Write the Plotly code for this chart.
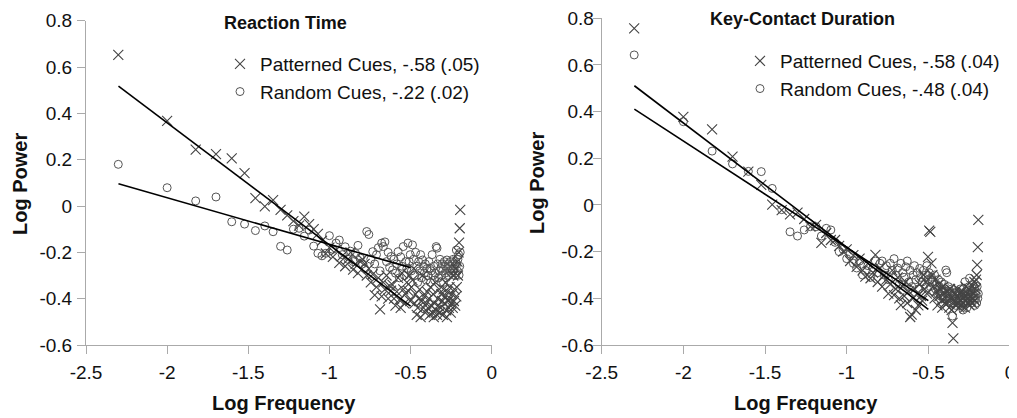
"""Log power spectra for reaction time and key-contact duration."""
import plotly.graph_objects as go

# log frequency shared by every series (k = 1..128)
log_freq = [
    -2.301, -2.000, -1.824, -1.699, -1.602, -1.523, -1.456, -1.398, -1.347, -1.301, -1.260, -1.222, -1.187, -1.155, -1.125, -1.097,
    -1.071, -1.046, -1.022, -1.000, -0.979, -0.959, -0.939, -0.921, -0.903, -0.886, -0.870, -0.854, -0.839, -0.824, -0.810, -0.796,
    -0.783, -0.770, -0.757, -0.745, -0.733, -0.721, -0.710, -0.699, -0.688, -0.678, -0.668, -0.658, -0.648, -0.638, -0.629, -0.620,
    -0.611, -0.602, -0.593, -0.585, -0.577, -0.569, -0.561, -0.553, -0.545, -0.538, -0.530, -0.523, -0.516, -0.509, -0.502, -0.495,
    -0.488, -0.481, -0.475, -0.469, -0.462, -0.456, -0.450, -0.444, -0.438, -0.432, -0.426, -0.420, -0.415, -0.409, -0.403, -0.398,
    -0.393, -0.387, -0.382, -0.377, -0.372, -0.367, -0.361, -0.357, -0.352, -0.347, -0.342, -0.337, -0.333, -0.328, -0.323, -0.319,
    -0.314, -0.310, -0.305, -0.301, -0.297, -0.292, -0.288, -0.284, -0.280, -0.276, -0.272, -0.268, -0.264, -0.260, -0.256, -0.252,
    -0.248, -0.244, -0.240, -0.237, -0.233, -0.229, -0.225, -0.222, -0.218, -0.215, -0.211, -0.208, -0.204, -0.201, -0.197, -0.194,
]

rt_patterned = [
    0.652, 0.368, 0.243, 0.224, 0.206, 0.142, 0.034, -0.002, 0.025, -0.017, -0.040, -0.065, -0.085, -0.046, -0.078, -0.100,
    -0.120, -0.150, -0.205, -0.180, -0.220, -0.190, -0.245, -0.215, -0.260, -0.230, -0.200, -0.275, -0.250, -0.290, -0.240, -0.230,
    -0.250, -0.300, -0.270, -0.330, -0.295, -0.385, -0.350, -0.310, -0.446, -0.390, -0.330, -0.360, -0.300, -0.400, -0.345, -0.365,
    -0.340, -0.400, -0.430, -0.370, -0.310, -0.405, -0.440, -0.290, -0.360, -0.420, -0.380, -0.330, -0.365, -0.300, -0.410, -0.350,
    -0.320, -0.270, -0.420, -0.380, -0.470, -0.440, -0.400, -0.360, -0.480, -0.410, -0.300, -0.440, -0.390, -0.460, -0.420, -0.370,
    -0.440, -0.400, -0.470, -0.350, -0.430, -0.460, -0.380, -0.480, -0.420, -0.330, -0.450, -0.470, -0.400, -0.430, -0.360, -0.460,
    -0.440, -0.380, -0.410, -0.470, -0.360, -0.420, -0.390, -0.330, -0.450, -0.480, -0.370, -0.410, -0.440, -0.350, -0.400, -0.460,
    -0.420, -0.380, -0.440, -0.300, -0.410, -0.360, -0.430, -0.270, -0.390, -0.350, -0.240, -0.300, -0.200, -0.158, -0.096, -0.017,
]

rt_random = [
    0.180, 0.079, 0.022, 0.039, -0.068, -0.078, -0.106, -0.086, -0.111, -0.174, -0.190, -0.100, -0.096, -0.130, -0.104, -0.173,
    -0.204, -0.215, -0.204, -0.128, -0.187, -0.160, -0.147, -0.210, -0.176, -0.230, -0.195, -0.240, -0.205, -0.170, -0.225, -0.250,
    -0.270, -0.110, -0.123, -0.230, -0.197, -0.250, -0.210, -0.180, -0.280, -0.160, -0.175, -0.155, -0.240, -0.200, -0.265, -0.218,
    -0.276, -0.230, -0.290, -0.250, -0.197, -0.310, -0.220, -0.260, -0.175, -0.300, -0.240, -0.270, -0.160, -0.240, -0.210, -0.280,
    -0.168, -0.230, -0.300, -0.200, -0.260, -0.330, -0.240, -0.280, -0.210, -0.310, -0.233, -0.260, -0.290, -0.250, -0.320, -0.270,
    -0.300, -0.240, -0.269, -0.330, -0.280, -0.210, -0.300, -0.260, -0.320, -0.290, -0.175, -0.182, -0.250, -0.310, -0.280, -0.230,
    -0.270, -0.300, -0.250, -0.280, -0.330, -0.240, -0.290, -0.260, -0.310, -0.233, -0.270, -0.250, -0.300, -0.280, -0.240, -0.260,
    -0.290, -0.250, -0.280, -0.230, -0.270, -0.260, -0.300, -0.240, -0.190, -0.250, -0.280, -0.230, -0.210, -0.298, -0.260, -0.200,
]

kcd_patterned = [
    0.757, 0.378, 0.324, 0.207, 0.143, 0.086, 0.002, -0.022, -0.040, -0.033, -0.060, -0.093, -0.085, -0.162, -0.120, -0.150,
    -0.150, -0.175, -0.200, -0.190, -0.240, -0.215, -0.265, -0.230, -0.280, -0.307, -0.250, -0.314, -0.290, -0.214, -0.330, -0.270,
    -0.350, -0.300, -0.320, -0.380, -0.340, -0.280, -0.386, -0.360, -0.310, -0.400, -0.429, -0.350, -0.390, -0.330, -0.420, -0.370,
    -0.480, -0.470, -0.400, -0.360, -0.450, -0.380, -0.430, -0.340, -0.390, -0.410, -0.300, -0.360, -0.330, -0.380, -0.222, -0.110,
    -0.115, -0.250, -0.300, -0.350, -0.400, -0.320, -0.370, -0.430, -0.340, -0.390, -0.360, -0.410, -0.440, -0.350, -0.380, -0.420,
    -0.400, -0.370, -0.420, -0.380, -0.440, -0.360, -0.400, -0.450, -0.505, -0.572, -0.410, -0.380, -0.430, -0.390, -0.420, -0.360,
    -0.400, -0.440, -0.380, -0.410, -0.430, -0.370, -0.420, -0.400, -0.390, -0.440, -0.350, -0.410, -0.380, -0.420, -0.400, -0.360,
    -0.430, -0.390, -0.410, -0.370, -0.420, -0.350, -0.400, -0.380, -0.330, -0.410, -0.360, -0.320, -0.300, -0.257, -0.181, -0.064,
]

kcd_random = [
    0.643, 0.357, 0.231, 0.176, 0.144, 0.143, 0.071, -0.020, -0.115, -0.133, -0.107, -0.093, -0.093, -0.133, -0.100, -0.107,
    -0.160, -0.200, -0.190, -0.230, -0.210, -0.250, -0.270, -0.240, -0.300, -0.280, -0.260, -0.310, -0.270, -0.240, -0.290, -0.250,
    -0.240, -0.300, -0.260, -0.320, -0.250, -0.280, -0.230, -0.300, -0.270, -0.340, -0.250, -0.290, -0.310, -0.265, -0.240, -0.330,
    -0.280, -0.350, -0.300, -0.260, -0.320, -0.290, -0.360, -0.272, -0.310, -0.330, -0.280, -0.340, -0.300, -0.260, -0.320, -0.290,
    -0.350, -0.310, -0.330, -0.370, -0.300, -0.360, -0.340, -0.380, -0.320, -0.350, -0.390, -0.330, -0.360, -0.400, -0.340, -0.370,
    -0.279, -0.290, -0.380, -0.350, -0.400, -0.370, -0.420, -0.360, -0.476, -0.390, -0.410, -0.380, -0.430, -0.400, -0.370, -0.420,
    -0.390, -0.410, -0.360, -0.430, -0.400, -0.380, -0.450, -0.420, -0.390, -0.329, -0.410, -0.370, -0.440, -0.400, -0.380, -0.350,
    -0.314, -0.400, -0.364, -0.420, -0.380, -0.340, -0.410, -0.390, -0.360, -0.430, -0.400, -0.370, -0.420, -0.350, -0.400, -0.380,
]

# fitted regression lines (end points)
fit_x = [-2.30, -0.50]
rt_patterned_fit = [0.518, -0.432]
rt_random_fit = [0.096, -0.266]
kcd_patterned_fit = [0.511, -0.447]
kcd_random_fit = [0.411, -0.410]

panel_titles = ['Reaction Time', 'Key-Contact Duration']
legend_labels = [
    ['Patterned Cues, -.58 (.05)', 'Random Cues, -.22 (.02)'],
    ['Patterned Cues, -.58 (.04)', 'Random Cues, -.48 (.04)'],
]

FONT = 'Liberation Sans, Arial, sans-serif'
INK = '#111111'
W, H = 1017, 418
OFF = 8  # page body margin


def px_x(px):
    return (px - OFF) / W


def px_y(py):
    return 1 - (py - OFF) / H


fig = go.Figure()

panels = [
    ('x', 'y', 'legend', rt_patterned, rt_random, rt_patterned_fit, rt_random_fit),
    ('x2', 'y2', 'legend2', kcd_patterned, kcd_random, kcd_patterned_fit, kcd_random_fit),
]

for i, (xa, ya, leg, patterned, random_cues, p_fit, r_fit) in enumerate(panels):
    fig.add_trace(go.Scatter(x=log_freq, y=random_cues, mode='markers', xaxis=xa, yaxis=ya,
                             name=legend_labels[i][1], legend=leg,
                             marker=dict(symbol='circle-open', size=8, color='#555555', line=dict(width=1))))
    fig.add_trace(go.Scatter(x=log_freq, y=patterned, mode='markers', xaxis=xa, yaxis=ya,
                             name=legend_labels[i][0], legend=leg,
                             marker=dict(symbol='x-thin-open', size=10, color='#444444', line=dict(width=1.1))))
    fig.add_trace(go.Scatter(x=fit_x, y=p_fit, mode='lines', xaxis=xa, yaxis=ya, showlegend=False,
                             line=dict(color='black', width=1.6)))
    fig.add_trace(go.Scatter(x=fit_x, y=r_fit, mode='lines', xaxis=xa, yaxis=ya, showlegend=False,
                             line=dict(color='black', width=1.6)))

axis_common = dict(
    showgrid=False, zeroline=False, showline=True, linecolor='#aaaaaa', linewidth=1,
    ticks='outside', ticklen=8, tickcolor='#aaaaaa', automargin=False, ticklabeloverflow='allow',
    tickfont=dict(family=FONT, size=19, color=INK),
)
xaxis_common = dict(axis_common, range=[-2.5, 0], tickvals=[-2.5, -2, -1.5, -1, -0.5, 0],
                    ticktext=['-2.5', '-2', '-1.5', '-1', '-0.5', '0'], ticklabelstandoff=2)
yaxis_common = dict(axis_common, range=[-0.6, 0.8], tickvals=[-0.6, -0.4, -0.2, 0, 0.2, 0.4, 0.6, 0.8],
                    ticktext=['-0.6', '-0.4', '-0.2', '0', '0.2', '0.4', '0.6', '0.8'])

fig.update_layout(
    width=W, height=H,
    template='none',
    paper_bgcolor='white', plot_bgcolor='white',
    margin=dict(l=0, r=0, t=0, b=0),
    font=dict(family=FONT, size=19, color=INK),
    xaxis=dict(xaxis_common, domain=[px_x(86), px_x(491.7)], anchor='y'),
    yaxis=dict(yaxis_common, domain=[px_y(345), px_y(20.7)], anchor='x', ticklabelstandoff=1),
    xaxis2=dict(xaxis_common, domain=[px_x(601.7), px_x(1010)], anchor='y2'),
    yaxis2=dict(yaxis_common, domain=[px_y(345), px_y(18.3)], anchor='x2', ticklabelstandoff=-5),
    legend=dict(x=px_x(220), y=px_y(45), xanchor='left', yanchor='top', traceorder='reversed',
                bgcolor='rgba(0,0,0,0)', font=dict(family=FONT, size=19, color=INK), itemwidth=30),
    legend2=dict(x=px_x(740), y=px_y(42), xanchor='left', yanchor='top', traceorder='reversed',
                 bgcolor='rgba(0,0,0,0)', font=dict(family=FONT, size=19, color=INK), itemwidth=30),
    showlegend=True,
)

# panel titles
for text, cx, cy in [(panel_titles[0], 285, 23), (panel_titles[1], 802, 19)]:
    fig.add_annotation(text='<b>' + text + '</b>', x=px_x(cx), y=px_y(cy),
                       xref='paper', yref='paper', xanchor='center', yanchor='middle', showarrow=False,
                       font=dict(family=FONT, size=18, color=INK))

# axis titles
for cx, cy in [(20, 184), (537, 183)]:
    fig.add_annotation(text='<b>Log Power</b>', x=px_x(cx), y=px_y(cy), textangle=-90,
                       xref='paper', yref='paper', xanchor='center', yanchor='middle', showarrow=False,
                       font=dict(family=FONT, size=20, color=INK))
for cx, cy in [(284, 403), (806, 403)]:
    fig.add_annotation(text='<b>Log Frequency</b>', x=px_x(cx), y=px_y(cy),
                       xref='paper', yref='paper', xanchor='center', yanchor='middle', showarrow=False,
                       font=dict(family=FONT, size=20, color=INK))

fig.write_html('out.html')
